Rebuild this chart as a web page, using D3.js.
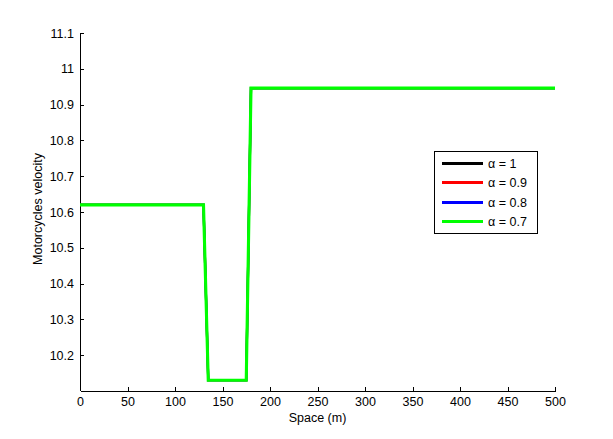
<!DOCTYPE html>
<html>
<head>
<meta charset="utf-8">
<title>Motorcycles velocity</title>
<script src="https://d3js.org/d3.v7.min.js"></script>
<style>
  body { margin: 0; background: #fff; }
  svg text { font-family: "Liberation Sans", Arial, sans-serif; }
</style>
</head>
<body>
<div id="my_dataviz"></div>
<script>
// data
var spaceX = [0, 130, 135, 175, 180, 500];
var alpha1 = [10.62, 10.62, 10.13, 10.13, 10.946, 10.946];
var alpha09 = [10.62, 10.62, 10.13, 10.13, 10.946, 10.946];
var alpha08 = [10.62, 10.62, 10.13, 10.13, 10.946, 10.946];
var alpha07 = [10.62, 10.62, 10.13, 10.13, 10.946, 10.946];
var seriesNames = ["\u03b1 = 1", "\u03b1 = 0.9", "\u03b1 = 0.8", "\u03b1 = 0.7"];
var seriesColors = ["#000000", "#ff0000", "#0000ff", "#00ff00"];
var xTicks = [0, 50, 100, 150, 200, 250, 300, 350, 400, 450, 500];
var yTicks = [10.2, 10.3, 10.4, 10.5, 10.6, 10.7, 10.8, 10.9, 11, 11.1];

var W = 613, H = 439;
var margin = {top: 33, right: 58, bottom: 48, left: 80},
    width = W - margin.left - margin.right,
    height = H - margin.top - margin.bottom;
var fs = "12.5px";

var svg = d3.select("#my_dataviz")
  .append("svg")
    .attr("width", W)
    .attr("height", H)
  .append("g")
    .attr("transform", "translate(" + margin.left + "," + margin.top + ")");

var x = d3.scaleLinear().domain([0, 500]).range([0, width]);
var y = d3.scaleLinear().domain([10.1, 11.1]).range([height, 0]);

// axes (MATLAB style, ticks inward, box off)
var xAxis = svg.append("g")
  .attr("transform", "translate(0," + height + ")")
  .call(d3.axisBottom(x).tickValues(xTicks).tickSizeInner(-4).tickSizeOuter(0).tickPadding(6));
var yAxis = svg.append("g")
  .call(d3.axisLeft(y).tickValues(yTicks).tickFormat(d3.format("")).tickSizeInner(-4).tickSizeOuter(0).tickPadding(6));

yAxis.select(".domain").attr("d", "M0," + height + "V0");
svg.selectAll(".tick text").style("font-size", fs).attr("fill", "#000");
svg.selectAll(".tick line, .domain").attr("stroke", "#000").attr("shape-rendering", "crispEdges");

// axis labels
svg.append("text")
  .attr("text-anchor", "middle")
  .attr("x", width / 2)
  .attr("y", height + 31)
  .style("font-size", fs)
  .text("Space (m)");

svg.append("text")
  .attr("text-anchor", "middle")
  .attr("transform", "translate(" + (-38) + "," + (height / 2 - 3) + ") rotate(-90)")
  .style("font-size", fs)
  .text("Motorcycles velocity");

// lines (all four coincide, the last one drawn covers the others)
var allSeries = [alpha1, alpha09, alpha08, alpha07];
var line = d3.line()
  .x(function(d, i) { return x(spaceX[i]); })
  .y(function(d) { return y(d); });

svg.selectAll("mylines")
  .data(allSeries)
  .enter()
  .append("path")
    .attr("fill", "none")
    .attr("stroke", function(d, i) { return seriesColors[i]; })
    .attr("stroke-width", function(d, i) { return i === allSeries.length - 1 ? 3.1 : 2.2; })
    .attr("stroke-linejoin", "miter")
    .attr("d", line);

// legend
var legend = svg.append("g")
  .attr("transform", "translate(" + (434 - margin.left) + "," + (151 - margin.top) + ")");
legend.append("rect")
  .attr("x", 0.5).attr("y", 0.5)
  .attr("width", 103)
  .attr("height", 82)
  .attr("fill", "#fff")
  .attr("stroke", "#000")
  .attr("shape-rendering", "crispEdges");
var item = legend.selectAll("legitem")
  .data(seriesNames)
  .enter()
  .append("g")
    .attr("transform", function(d, i) { return "translate(0," + Math.round(12 + i * 19.4) + ")"; });
item.append("line")
  .attr("x1", 8).attr("x2", 49)
  .attr("y1", 0.5).attr("y2", 0.5)
  .attr("stroke", function(d, i) { return seriesColors[i]; })
  .attr("stroke-width", 3)
  .attr("shape-rendering", "crispEdges");
item.append("text")
  .attr("x", 54)
  .attr("y", 5)
  .style("font-size", fs)
  .text(function(d) { return d; });
</script>
</body>
</html>
